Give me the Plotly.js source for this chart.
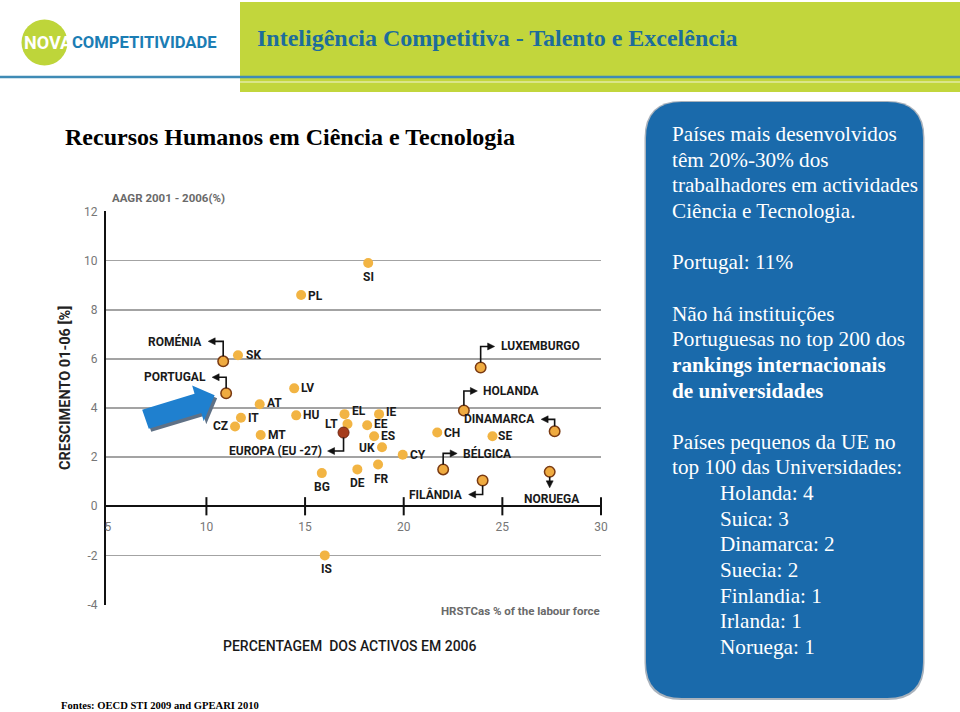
<!DOCTYPE html>
<html><head><meta charset="utf-8">
<script src="https://cdn.plot.ly/plotly-3.0.1.min.js"></script>
<style>html,body{margin:0;padding:0;background:#fff}#chart{width:960px;height:712px}</style>
</head><body><div id="chart"></div>
<script>
// ---------- data ----------
const stdLabels = ['PL','SI','SK','LV','AT','HU','IT','CZ','MT','EL','LT','IE','EE','ES','UK','BG','DE','FR','CY','CH','SE','IS'];
const stdHrst   = [14.8,18.2,11.6,14.45,12.7,14.55,11.75,11.45,12.75,17.0,17.15,18.75,18.15,18.5,18.9,15.85,17.65,18.7,19.95,21.7,24.5,16.0];
const stdGrowth = [8.6,9.9,6.15,4.8,4.15,3.7,3.6,3.25,2.9,3.75,3.35,3.75,3.3,2.85,2.4,1.35,1.5,1.7,2.1,3.0,2.85,-2.0];
const hiLabels  = ['ROMÉNIA','PORTUGAL','BÉLGICA','FILÂNDIA','DINAMARCA','NORUEGA','HOLANDA','LUXEMBURGO'];
const hiHrst    = [10.85,11.0,22.0,24.0,27.65,27.4,23.05,23.9];
const hiGrowth  = [5.9,4.6,1.5,1.05,3.05,1.4,3.9,5.65];
const euLabels  = ['EUROPA (EU -27)'];
const euHrst    = [16.95];
const euGrowth  = [3.0];
const xTicks = [5,10,15,20,25,30];
const yTicks = [-4,-2,0,2,4,6,8,10,12];
const panelLines = [
  'Países mais desenvolvidos','têm 20%-30% dos','trabalhadores em actividades','Ciência e Tecnologia.','',
  'Portugal: 11%','',
  'Não há instituições','Portuguesas no top 200 dos','<b>rankings internacionais</b>','<b>de universidades</b>','',
  'Países pequenos da UE no','top 100 das Universidades:',
  'Holanda: 4','Suica: 3','Dinamarca: 2','Suecia: 2','Finlandia: 1','Irlanda: 1','Noruega: 1'
];
const indentFrom = 14;

// ---------- style / placement ----------
const L=106, R=601, T=211, B=605;
const PX = x => (x-L)/(R-L);
const PY = y => (B-y)/(B-T);
const YR = [-4.02, 12.02];
const labFont = {family:'Roboto, Arial, sans-serif', size:12, color:'#1a1a1a', weight:700};
const labelSide = {PL:['r',0,-1],SI:['b',0,0],SK:['r',1,0],LV:['r',0,0],AT:['r',0,1],HU:['r',0,0],IT:['r',0,0],CZ:['l',0,0],
  MT:['r',0,0],EL:['r',0,3],LT:['l',-2,0],IE:['r',0,2],EE:['r',0,1],ES:['r',0,0],UK:['l',0,-1],BG:['b',0,0],DE:['b',0,0],
  FR:['b',3,0],CY:['r',0,0],CH:['r',0,0],SE:['r',-1,0],IS:['b',2,0]};
const callout = {'ROMÉNIA':[20,-15],'PORTUGAL':[16,-14],'EUROPA (EU -27)':[-18.5,-16],'BÉLGICA':[16,14],
  'FILÂNDIA':[-14,-14],'DINAMARCA':[12,-13.5],'NORUEGA':[-16,0],'HOLANDA':[19.5,13.5],'LUXEMBURGO':[21,14]};

const annotations = [];
const shapes = [];
const serif = 'Liberation Serif, Times New Roman, serif';
const sans = 'Roboto, Arial, sans-serif';

// header
shapes.push({type:'rect',xref:'paper',yref:'paper',x0:PX(240),x1:PX(960),y0:PY(2),y1:PY(92),fillcolor:'#c2d63c',line:{width:0},layer:'below'});
shapes.push({type:'line',xref:'paper',yref:'paper',x0:PX(0),x1:PX(960),y0:PY(77),y1:PY(77),line:{color:'#3f8bb5',width:2.5}});
shapes.push({type:'line',xref:'paper',yref:'paper',x0:PX(240),x1:PX(960),y0:PY(82),y1:PY(82),line:{color:'rgba(255,255,255,0.8)',width:1.2}});
shapes.push({type:'circle',xref:'paper',yref:'paper',x0:PX(21.5),x1:PX(67.5),y0:PY(19.5),y1:PY(65.5),fillcolor:'#bed53a',line:{width:0}});
annotations.push({xref:'paper',yref:'paper',x:PX(22),y:PY(42),xanchor:'left',yanchor:'middle',showarrow:false,
  text:'NOVA',font:{family:sans,size:18,color:'#ffffff',weight:700}});
annotations.push({xref:'paper',yref:'paper',x:PX(70),y:PY(42),xanchor:'left',yanchor:'middle',showarrow:false,
  text:'COMPETITIVIDADE',font:{family:sans,size:16.6,color:'#1b7db4',weight:700}});
annotations.push({xref:'paper',yref:'paper',x:PX(255),y:PY(38),xanchor:'left',yanchor:'middle',showarrow:false,
  text:'<b>Inteligência Competitiva - Talento e Excelência</b>',font:{family:serif,size:24,color:'#1d6d9b'}});
annotations.push({xref:'paper',yref:'paper',x:PX(63),y:PY(137),xanchor:'left',yanchor:'middle',showarrow:false,
  text:'<b>Recursos Humanos em Ciência e Tecnologia</b>',font:{family:serif,size:24,color:'#000'}});
annotations.push({xref:'paper',yref:'paper',x:PX(59),y:PY(705),xanchor:'left',yanchor:'middle',showarrow:false,
  text:'<b>Fontes: OECD STI 2009 and GPEARI 2010</b>',font:{family:serif,size:10.6,color:'#000'}});

// axis texts
annotations.push({xref:'paper',yref:'paper',x:PX(110),y:PY(198),xanchor:'left',yanchor:'middle',showarrow:false,
  text:'AAGR 2001 - 2006(%)',font:{family:sans,size:11.5,color:'#6a6a6a',weight:700}});
annotations.push({xref:'paper',yref:'paper',x:PX(65),y:PY(388),xanchor:'center',yanchor:'middle',showarrow:false,textangle:-90,
  text:'CRESCIMENTO 01-06 [%]',font:{family:sans,size:14.5,color:'#222',weight:700}});
annotations.push({xref:'paper',yref:'paper',x:PX(602),y:PY(611),xanchor:'right',yanchor:'middle',showarrow:false,
  text:'HRSTCas % of the labour force',font:{family:sans,size:11.5,color:'#6a6a6a',weight:700}});
annotations.push({xref:'paper',yref:'paper',x:PX(350),y:PY(646),xanchor:'center',yanchor:'middle',showarrow:false,
  text:'PERCENTAGEM&nbsp;&nbsp;DOS ACTIVOS EM 2006',font:{family:sans,size:14,color:'#1a1a1a',weight:500}});

// right panel (rounded rectangle)
function roundRect(x0,y0,x1,y1,r){
  const p=(x,y)=>PX(x).toFixed(5)+','+PY(y).toFixed(5);
  return 'M'+p(x0+r,y0)+' L'+p(x1-r,y0)+' Q'+p(x1,y0)+' '+p(x1,y0+r)+' L'+p(x1,y1-r)+' Q'+p(x1,y1)+' '+p(x1-r,y1)+
    ' L'+p(x0+r,y1)+' Q'+p(x0,y1)+' '+p(x0,y1-r)+' L'+p(x0,y0+r)+' Q'+p(x0,y0)+' '+p(x0+r,y0)+' Z';
}
shapes.push({type:'path',xref:'paper',yref:'paper',path:roundRect(644.5,101,924.5,700,37),fillcolor:'#a9b2bc',line:{width:0}});
shapes.push({type:'path',xref:'paper',yref:'paper',path:roundRect(646,102,923,698,36),fillcolor:'#1a6aab',line:{width:0}});
panelLines.forEach((t,i)=>{
  if(!t) return;
  annotations.push({xref:'paper',yref:'paper',x:PX(i>=indentFrom?718:670),y:PY(134+i*25.65),xanchor:'left',yanchor:'middle',
    showarrow:false,text:t,font:{family:serif,size:21.2,color:'#ffffff'}});
});

// big blue arrow pointing at Portugal
const pIdx = hiLabels.indexOf('PORTUGAL');
const arrowPts = [[-11.5,-2],[-22.4,-28],[-24.9,-19.8],[-77.4,-35.6],[-84,-16.4],[-31.6,-0.5],[-34,7.7]];
const arrowPath = (dx,dy)=>'M'+arrowPts.map(p=>(p[0]+dx)+','+(p[1]+dy)).join(' L')+' Z';
[[2.5,-3,'#5f7186'],[0,0,'#1f80cf']].forEach(a=>{
  shapes.push({type:'path',xref:'x',yref:'y',xsizemode:'pixel',ysizemode:'pixel',xanchor:hiHrst[pIdx],yanchor:hiGrowth[pIdx],
    path:arrowPath(a[0],a[1]),fillcolor:a[2],line:{width:0}});
});

// labels for standard points
stdLabels.forEach((lab,i)=>{
  const s = labelSide[lab];
  const a = {x:stdHrst[i],y:stdGrowth[i],showarrow:false,text:lab,font:labFont};
  if(s[0]==='r'){a.xanchor='left';a.yanchor='middle';a.xshift=5+s[1];a.yshift=s[2];}
  else if(s[0]==='l'){a.xanchor='right';a.yanchor='middle';a.xshift=-5+s[1];a.yshift=s[2];}
  else {a.xanchor='center';a.yanchor='top';a.xshift=s[1];a.yshift=-5+s[2];}
  annotations.push(a);
});

// callouts for highlighted points
function addCallout(lab,x,y){
  const [v,h] = callout[lab];
  const sv = Math.sign(v);
  let path, tri, txt;
  if(h!==0){
    const sh = Math.sign(h);
    path = 'M0,'+(sv*5)+' L0,'+v+' L'+(h-sh*5)+','+v;
    tri = 'M'+h+','+v+' L'+(h-sh*7)+','+(v+3.5)+' L'+(h-sh*7)+','+(v-3.5)+' Z';
    txt = {x:x,y:y,xshift:h+sh*4,yshift:v,xanchor:sh<0?'right':'left',yanchor:'middle'};
  } else {
    path = 'M0,'+(sv*5)+' L0,'+(v-sv*5);
    tri = 'M0,'+v+' L3.5,'+(v-sv*7)+' L-3.5,'+(v-sv*7)+' Z';
    txt = {x:x,y:y,xshift:2,yshift:v-2,xanchor:'center',yanchor:'top'};
  }
  shapes.push({type:'path',xref:'x',yref:'y',xsizemode:'pixel',ysizemode:'pixel',xanchor:x,yanchor:y,path:path,
    line:{color:'#111',width:1.6},fillcolor:'rgba(0,0,0,0)'});
  shapes.push({type:'path',xref:'x',yref:'y',xsizemode:'pixel',ysizemode:'pixel',xanchor:x,yanchor:y,path:tri,
    line:{color:'#111',width:0.5},fillcolor:'#111'});
  annotations.push(Object.assign(txt,{showarrow:false,text:lab,font:labFont}));
}
hiLabels.forEach((lab,i)=>addCallout(lab,hiHrst[i],hiGrowth[i]));
euLabels.forEach((lab,i)=>addCallout(lab,euHrst[i],euGrowth[i]));

const traces = [
  {x:xTicks.filter(v=>v>5), y:xTicks.filter(v=>v>5).map(()=>0), mode:'markers', hoverinfo:'skip', cliponaxis:false,
   marker:{symbol:'line-ns',size:13,line:{width:2,color:'#111'}}},
  {x:stdHrst, y:stdGrowth, text:stdLabels, mode:'markers', marker:{size:10,color:'#f2b443'}},
  {x:hiHrst, y:hiGrowth, text:hiLabels, mode:'markers', marker:{size:10.5,color:'#efab40',line:{color:'#7a3a12',width:1.5}}},
  {x:euHrst, y:euGrowth, text:euLabels, mode:'markers', marker:{size:11,color:'#a53c1c',line:{color:'#6e2410',width:1}}}
];

const tickFont = {family:sans, size:12, color:'#767676'};
const layout = {
  width:960, height:712, showlegend:false,
  margin:{l:L, r:960-R, t:T, b:712-B, pad:0},
  paper_bgcolor:'#fff', plot_bgcolor:'#fff',
  xaxis:{range:[4.91,30], anchor:'free', position:(0-YR[0])/(YR[1]-YR[0]), showgrid:false, zeroline:false, showline:false,
    tickmode:'array', tickvals:xTicks, ticktext:xTicks.map(String), ticks:'outside', ticklen:9, tickcolor:'rgba(0,0,0,0)',
    tickfont:tickFont, fixedrange:true},
  yaxis:{range:YR, tickmode:'array', tickvals:yTicks, ticktext:yTicks.map(String), showgrid:true, gridcolor:'#a3a3a3', gridwidth:1.5,
    zeroline:true, zerolinecolor:'#111', zerolinewidth:2, showline:true, linecolor:'#111', linewidth:2,
    ticks:'outside', ticklen:4, tickcolor:'rgba(0,0,0,0)', tickfont:tickFont, fixedrange:true},
  shapes:shapes, annotations:annotations
};
Plotly.newPlot('chart', traces, layout, {displayModeBar:false, staticPlot:true});
</script></body></html>
